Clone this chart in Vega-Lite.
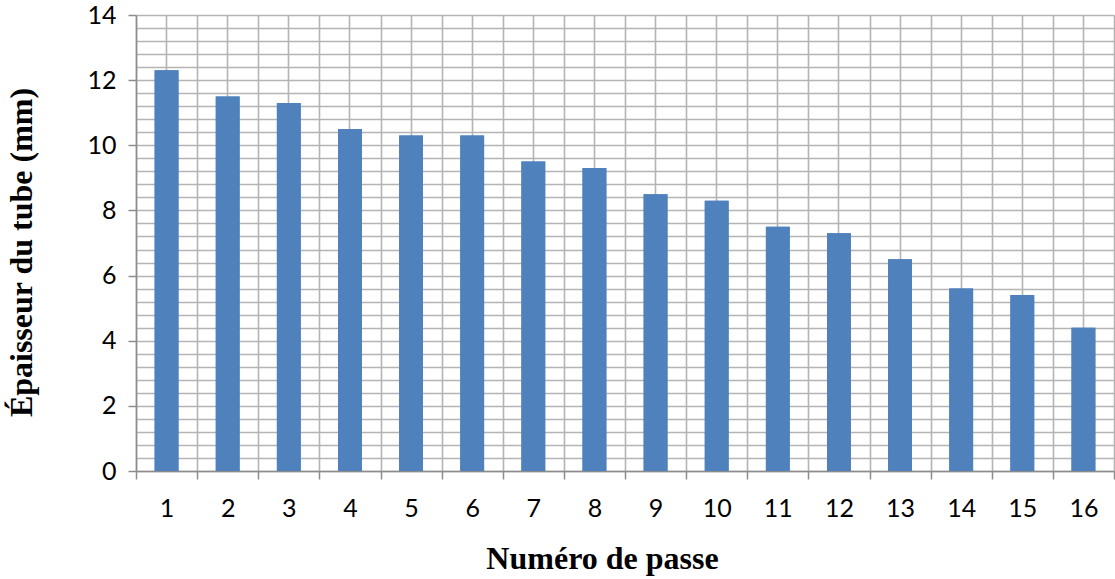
{
  "$schema": "https://vega.github.io/schema/vega-lite/v6.json",
  "autosize": {"type": "none"},
  "width": 978,
  "height": 456,
  "padding": {"left": 136, "top": 15, "right": 1, "bottom": 108},
  "background": "white",
  "config": {"view": {"stroke": null}},
  "data": {"values": [
    {"passe": "1", "epaisseur": 12.3},
    {"passe": "2", "epaisseur": 11.5},
    {"passe": "3", "epaisseur": 11.3},
    {"passe": "4", "epaisseur": 10.5},
    {"passe": "5", "epaisseur": 10.3},
    {"passe": "6", "epaisseur": 10.3},
    {"passe": "7", "epaisseur": 9.5},
    {"passe": "8", "epaisseur": 9.3},
    {"passe": "9", "epaisseur": 8.5},
    {"passe": "10", "epaisseur": 8.3},
    {"passe": "11", "epaisseur": 7.5},
    {"passe": "12", "epaisseur": 7.3},
    {"passe": "13", "epaisseur": 6.5},
    {"passe": "14", "epaisseur": 5.6},
    {"passe": "15", "epaisseur": 5.4},
    {"passe": "16", "epaisseur": 4.4}
  ]},
  "layer": [
    {
      "mark": {"type": "bar", "color": "#4f81bd", "width": {"band": 0.39}},
      "encoding": {
        "x": {"field": "passe", "type": "ordinal", "sort": null,
          "scale": {"paddingInner": 0, "paddingOuter": 0},
          "axis": {"orient": "bottom", "title": null, "labels": false, "ticks": false, "domain": false, "grid": true, "bandPosition": 0.5, "gridColor": "#b4b4b4", "gridWidth": 1.6, "gridOpacity": 1}},
        "y": {"field": "epaisseur", "type": "quantitative",
          "scale": {"domain": [0, 14], "nice": false},
          "axis": {"orient": "left", "title": null, "labels": false, "ticks": false, "domain": false, "grid": true, "gridColor": "#b4b4b4", "gridWidth": 1.6, "gridOpacity": 1,
            "values": [0, 0.4, 0.8, 1.2, 1.6, 2, 2.4, 2.8, 3.2, 3.6, 4, 4.4, 4.8, 5.2, 5.6, 6, 6.4, 6.8, 7.2, 7.6, 8, 8.4, 8.8, 9.2, 9.6, 10, 10.4, 10.8, 11.2, 11.6, 12, 12.4, 12.8, 13.2, 13.6, 14]}}
      }
    },
    {
      "mark": {"type": "bar", "color": "#4f81bd", "width": {"band": 0.39}},
      "encoding": {
        "x": {"field": "passe", "type": "ordinal", "sort": null,
          "axis": {"orient": "bottom", "title": "Numéro de passe", "labelAngle": 0, "tickBand": "extent", "grid": true, "gridColor": "#b4b4b4", "gridWidth": 1.6, "gridOpacity": 1,
            "domainColor": "#8c8c8c", "domainWidth": 1.5, "tickColor": "#8c8c8c", "tickWidth": 1.5, "tickSize": 8,
            "labelFont": "Lato", "labelFontSize": 25, "labelColor": "#000000", "labelPadding": 17,
            "titleFont": "Liberation Serif", "titleFontSize": 32, "titleFontWeight": "bold", "titleColor": "#000000",
            "titleX": 466, "titleY": 97, "titleBaseline": "alphabetic", "titleAlign": "center"}},
        "y": {"field": "epaisseur", "type": "quantitative",
          "axis": {"orient": "left", "title": "Épaisseur du tube (mm)", "grid": false, "values": [0, 2, 4, 6, 8, 10, 12, 14],
            "domainColor": "#8c8c8c", "domainWidth": 1.5, "tickColor": "#8c8c8c", "tickWidth": 1.5, "tickSize": 8,
            "labelFont": "Lato", "labelFontSize": 25, "labelColor": "#000000", "labelPadding": 12,
            "titleFont": "Liberation Serif", "titleFontSize": 32, "titleFontWeight": "bold", "titleColor": "#000000",
            "titleAngle": -90, "titleX": -105, "titleY": 237, "titleBaseline": "alphabetic", "titleAlign": "center"}}
      }
    }
  ],
  "resolve": {"axis": {"x": "independent", "y": "independent"}}
}
